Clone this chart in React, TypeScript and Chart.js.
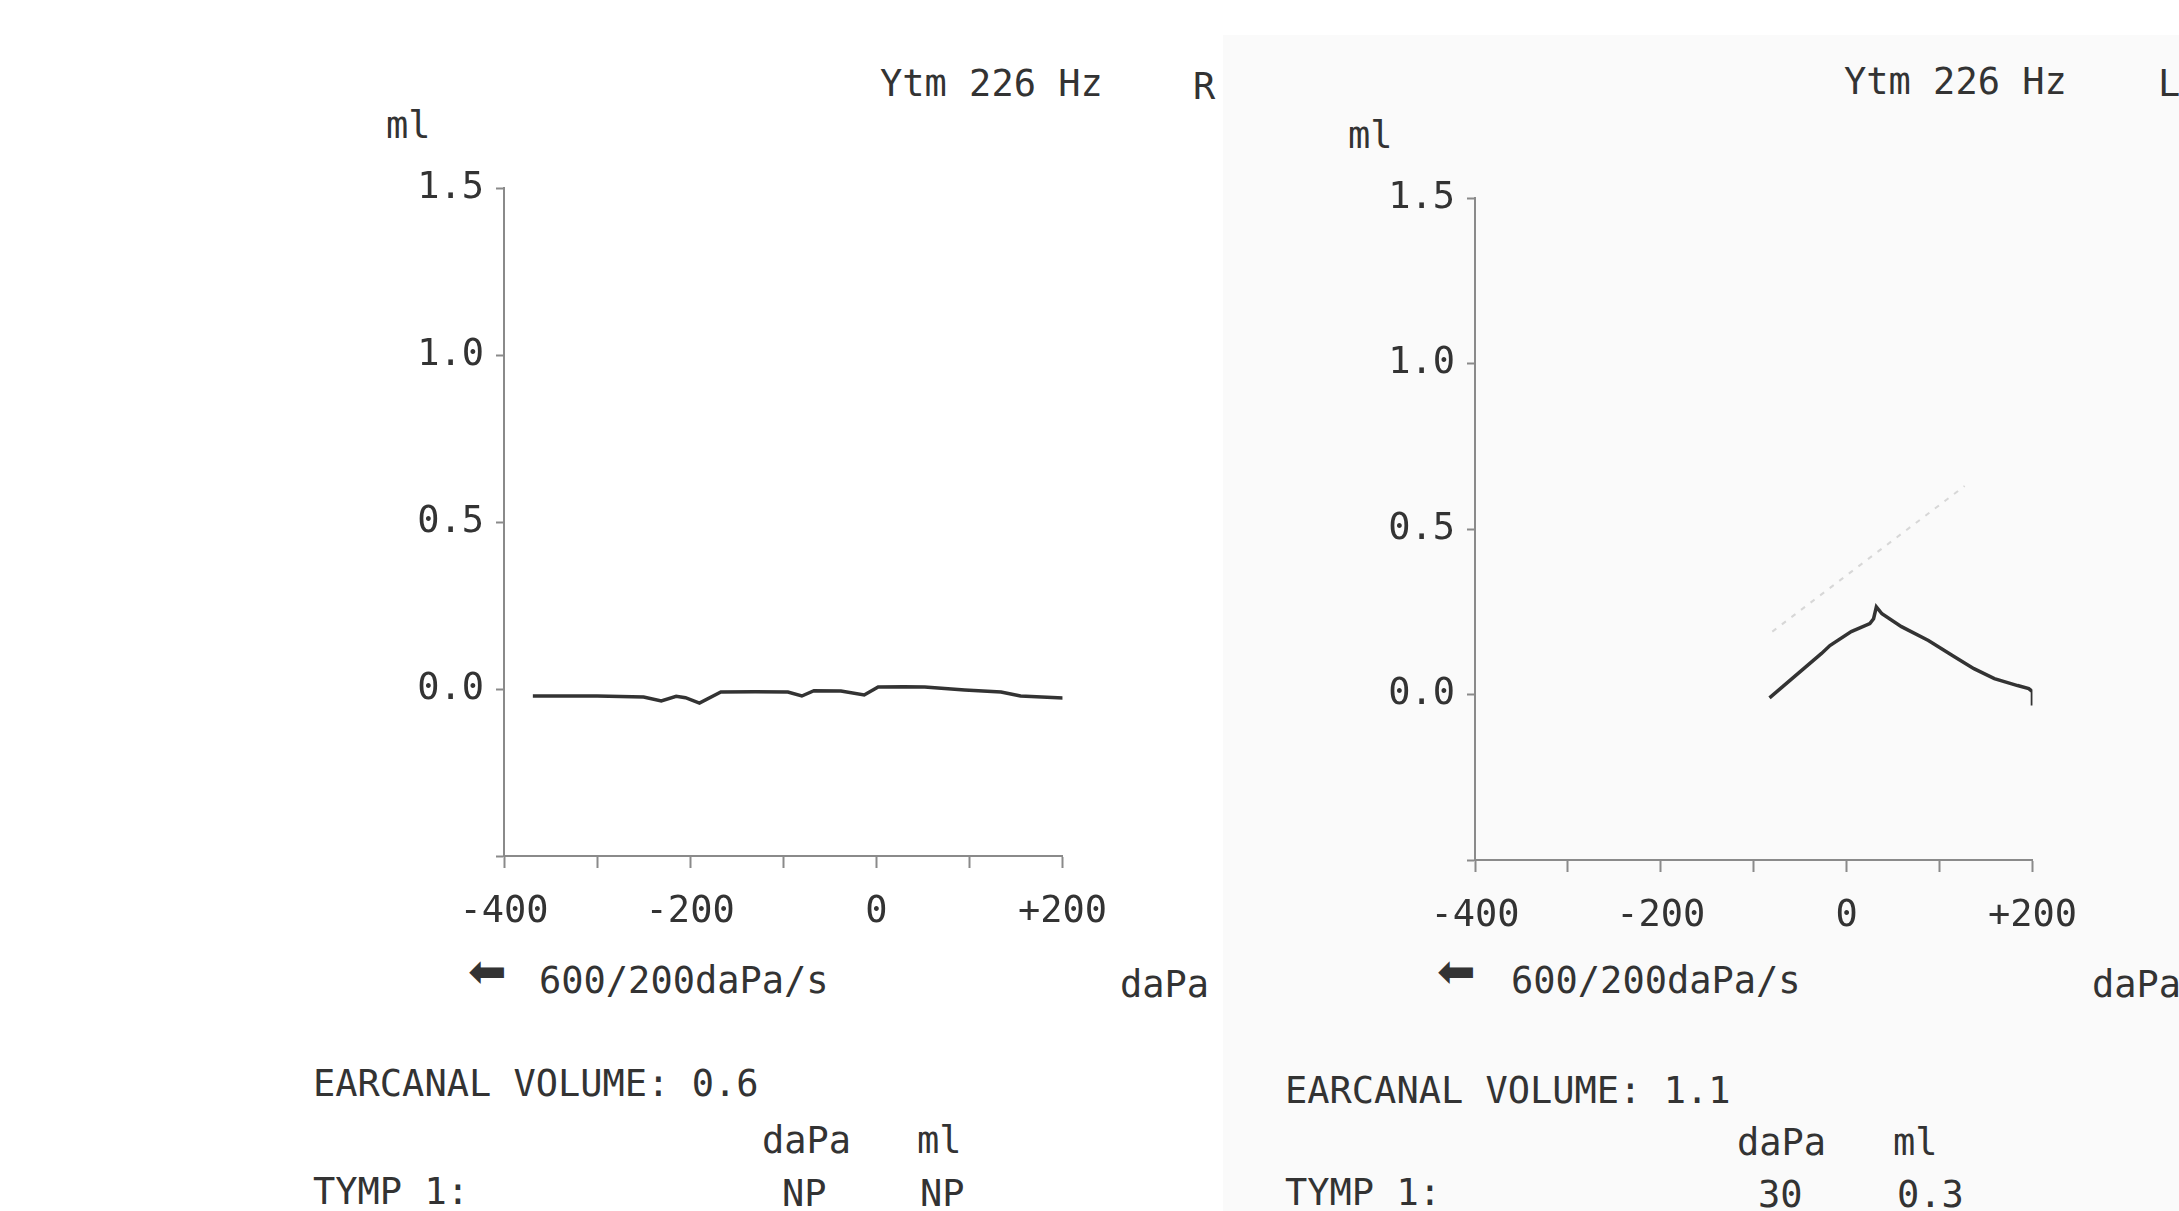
import React, { useEffect, useRef } from "react";
import { Chart, registerables } from "chart.js";

Chart.register(...registerables);

// ---- data ----
const pressureTicks = [-400, -300, -200, -100, 0, 100, 200];
const pressureTickLabels = ["-400", "", "-200", "", "0", "", "+200"];
const volumeTicks = [-0.5, 0, 0.5, 1, 1.5];
const volumeTickLabels = ["", "0.0", "0.5", "1.0", "1.5"];

// Right ear (R) – flat, no peak (NP)
const rightEarPressure = [-369, -300, -250, -231, -215, -205, -190, -167, -130, -95, -80, -67, -38, -13, 2, 30, 52, 95, 134, 155, 201];
const rightEarVolume = [-0.021, -0.021, -0.024, -0.036, -0.022, -0.026, -0.042, -0.009, -0.008, -0.009, -0.021, -0.005, -0.006, -0.018, 0.006, 0.007, 0.006, -0.003, -0.009, -0.021, -0.027];

// Left ear (L) – peak at 30 daPa, 0.3 ml
const leftEarPressure = [-83, -27, -18, 5, 25, 29, 32, 38, 59, 88, 116, 137, 159, 184, 196, 200, 200];
const leftEarVolume = [-0.01, 0.124, 0.148, 0.19, 0.214, 0.229, 0.265, 0.244, 0.205, 0.163, 0.114, 0.078, 0.048, 0.027, 0.018, 0.009, -0.033];

// faint show-through trace on the left-ear panel
const leftEarGhostPressure = [-80, 127];
const leftEarGhostVolume = [0.19, 0.63];

const FONT = "'DejaVu Sans Mono', monospace";
const INK = "#333333";
const AXIS = "#8a8a8a";

type Series = { xs: number[]; ys: number[]; color: string; width: number; dash?: number[] };

function labelFor(list: number[], labels: string[], v: number) {
  for (let i = 0; i < list.length; i++) if (Math.abs(list[i] - v) < 1e-6) return labels[i];
  return "";
}

function TympChart(props: {
  left: number; top: number; width: number; height: number;
  yWidth: number; xHeight: number; padTop: number; padRight: number;
  series: Series[];
}) {
  const ref = useRef<HTMLCanvasElement | null>(null);
  useEffect(() => {
    if (!ref.current) return;
    const chart = new Chart(ref.current, {
      type: "line",
      data: {
        datasets: props.series.map((s) => ({
          data: s.xs.map((x, i) => ({ x, y: s.ys[i] })),
          borderColor: s.color,
          borderWidth: s.width,
          borderDash: s.dash || [],
          pointRadius: 0,
          tension: 0,
          fill: false,
        })),
      },
      options: {
        animation: false,
        responsive: true,
        maintainAspectRatio: false,
        layout: { padding: { top: props.padTop, right: props.padRight, left: 0, bottom: 0 } },
        plugins: { legend: { display: false }, tooltip: { enabled: false } },
        scales: {
          x: {
            type: "linear",
            min: -400,
            max: 200,
            afterFit: (s: any) => { s.height = props.xHeight; },
            afterBuildTicks: (s: any) => { s.ticks = pressureTicks.map((v) => ({ value: v })); },
            ticks: {
              autoSkip: false,
              maxRotation: 0,
              padding: 22,
              color: INK,
              font: { family: FONT, size: 37 },
              callback: (v: any) => labelFor(pressureTicks, pressureTickLabels, Number(v)),
            },
            grid: { drawOnChartArea: false, drawTicks: true, tickLength: 12, tickColor: AXIS, tickWidth: 2 },
            border: { display: true, color: AXIS, width: 2 },
          },
          y: {
            type: "linear",
            min: -0.5,
            max: 1.5,
            afterFit: (s: any) => { s.width = props.yWidth; },
            afterBuildTicks: (s: any) => { s.ticks = volumeTicks.map((v) => ({ value: v })); },
            ticks: {
              autoSkip: false,
              padding: 12,
              color: INK,
              font: { family: FONT, size: 37 },
              callback: (v: any) => labelFor(volumeTicks, volumeTickLabels, Number(v)),
            },
            grid: { drawOnChartArea: false, drawTicks: true, tickLength: 8, tickColor: AXIS, tickWidth: 2 },
            border: { display: true, color: AXIS, width: 2 },
          },
        },
      } as any,
    });
    return () => chart.destroy();
  }, []);
  return (
    <div style={{ position: "absolute", left: props.left, top: props.top, width: props.width, height: props.height }}>
      <canvas ref={ref} />
    </div>
  );
}

function T(p: { x: number; y: number; children: React.ReactNode; size?: number; family?: string }) {
  const size = p.size || 37;
  return (
    <div
      style={{
        position: "absolute",
        left: p.x,
        top: p.y - size * 0.48,
        fontFamily: p.family || FONT,
        fontSize: size,
        lineHeight: `${size}px`,
        color: INK,
        whiteSpace: "pre",
      }}
    >
      {p.children}
    </div>
  );
}

export default function App() {
  return (
    <div style={{ position: "fixed", left: 0, top: 0, width: 2179, height: 1211, background: "#ffffff", overflow: "hidden" }}>
      <div style={{ position: "absolute", left: 1223, top: 35, right: 0, bottom: 0, background: "#fafafa" }} />

      {/* Right ear panel */}
      <TympChart
        left={400} top={153} width={729} height={770}
        yWidth={104} xHeight={67} padTop={35} padRight={0}
        series={[{ xs: rightEarPressure, ys: rightEarVolume, color: INK, width: 3.5 }]}
      />
      <T x={386} y={125}>ml</T>
      <T x={880} y={83}>Ytm 226 Hz</T>
      <T x={1193} y={86}>R</T>
      <T x={468} y={970} size={46} family="'DejaVu Sans', sans-serif">⬅</T>
      <T x={539} y={980}>600/200daPa/s</T>
      <T x={1120} y={984}>daPa</T>
      <T x={313} y={1083}>EARCANAL VOLUME: 0.6</T>
      <T x={762} y={1140}>daPa</T>
      <T x={917} y={1140}>ml</T>
      <T x={313} y={1191}>TYMP 1:</T>
      <T x={782} y={1193}>NP</T>
      <T x={920} y={1193}>NP</T>

      {/* Left ear panel */}
      <TympChart
        left={1370} top={163} width={729} height={770}
        yWidth={105} xHeight={73} padTop={35} padRight={0}
        series={[
          { xs: leftEarGhostPressure, ys: leftEarGhostVolume, color: "rgba(150,150,150,0.35)", width: 2, dash: [5, 7] },
          { xs: leftEarPressure, ys: leftEarVolume, color: INK, width: 3.5 },
        ]}
      />
      <T x={1348} y={135}>ml</T>
      <T x={1844} y={81}>Ytm 226 Hz</T>
      <T x={2158} y={83}>L</T>
      <T x={1437} y={970} size={46} family="'DejaVu Sans', sans-serif">⬅</T>
      <T x={1511} y={980}>600/200daPa/s</T>
      <T x={2092} y={984}>daPa</T>
      <T x={1285} y={1090}>EARCANAL VOLUME: 1.1</T>
      <T x={1737} y={1142}>daPa</T>
      <T x={1893} y={1142}>ml</T>
      <T x={1285} y={1192}>TYMP 1:</T>
      <T x={1758} y={1194}>30</T>
      <T x={1897} y={1194}>0.3</T>
    </div>
  );
}
